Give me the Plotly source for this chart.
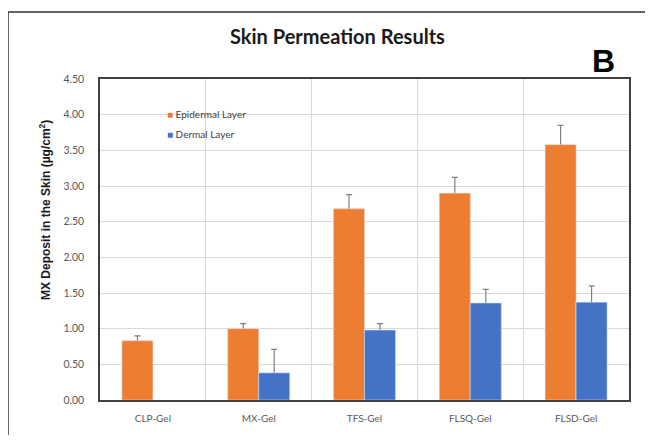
import plotly.graph_objects as go

categories = ["CLP-Gel", "MX-Gel", "TFS-Gel", "FLSQ-Gel", "FLSD-Gel"]
epidermal = [0.83, 1.00, 2.68, 2.90, 3.58]
epidermal_err = [0.07, 0.07, 0.20, 0.22, 0.27]
dermal = [None, 0.38, 0.98, 1.36, 1.37]
dermal_err = [None, 0.33, 0.09, 0.19, 0.23]
y_ticks = [0, 0.5, 1.0, 1.5, 2.0, 2.5, 3.0, 3.5, 4.0, 4.5]
series_names = ["Epidermal Layer", "Dermal Layer"]
series_colors = ["#ED7D31", "#4472C4"]

# page body adds an 8px offset; work in reference pixels and shift
OFF = 8
W, H = 653 - 2 * OFF, 443 - 2 * OFF
L, R, T, B = 100 - OFF, 629 - OFF, 79 - OFF, 400 - OFF

err_style = dict(type="data", symmetric=False, color="#7f7f7f", thickness=1.2, width=3)

fig = go.Figure()
for name, col, vals, errs, grp in [
    (series_names[0], series_colors[0], epidermal, epidermal_err, "epi"),
    (series_names[1], series_colors[1], dermal, dermal_err, "der"),
]:
    # bar with upward error bar (lower cap tucked inside the bar)
    fig.add_trace(go.Bar(
        x=categories, y=vals, name=name, marker_color=col, offsetgroup=grp,
        error_y=dict(array=errs, arrayminus=[0.04 if e else None for e in errs], **err_style),
    ))
    # same bar drawn again on top to hide the lower cap
    fig.add_trace(go.Bar(
        x=categories, y=vals, name=name, marker_color=col, offsetgroup=grp,
        showlegend=False, hoverinfo="skip",
    ))


def px_x(p):
    return (p - OFF - L) / (R - L)


def px_y(p):
    return (B - (p - OFF)) / (B - T)


annotations = [
    dict(text="<b>Skin Permeation Results</b>", x=px_x(337), y=px_y(36), xref="paper", yref="paper",
         showarrow=False, font=dict(family="Lato", size=20, color="#1a1a1a"),
         xanchor="center", yanchor="middle"),
    dict(text="<b>B</b>", x=px_x(603), y=px_y(61), xref="paper", yref="paper",
         showarrow=False, font=dict(family="Liberation Sans", size=32, color="black"),
         xanchor="center", yanchor="middle"),
    dict(text="<b>MX Deposit in the Skin (µg/cm<sup>2</sup>)</b>", x=px_x(45), y=px_y(210),
         xref="paper", yref="paper", showarrow=False, textangle=-90,
         font=dict(family="Liberation Sans", size=12, color="#1a1a1a"),
         xanchor="center", yanchor="middle"),
]
for i, (name, col) in enumerate(zip(series_names, series_colors)):
    annotations.append(dict(
        text=f"<span style='color:{col}'>■</span> {name}",
        x=px_x(165), y=px_y(114 + 20 * i), xref="paper", yref="paper", showarrow=False,
        font=dict(family="Lato", size=10, color="#404040"), xanchor="left", yanchor="middle"))

fig.update_layout(
    width=W, height=H,
    margin=dict(l=L, r=W - R, t=T, b=H - B, autoexpand=False),
    paper_bgcolor="white", plot_bgcolor="white",
    barmode="group", bargap=0.415, bargroupgap=0,
    showlegend=False,
    xaxis=dict(type="category", tickson="boundaries", showgrid=True, gridcolor="#d9d9d9",
               gridwidth=1, showline=True, linecolor="#404040", linewidth=1.5, mirror=True,
               ticks="", tickfont=dict(family="Lato", size=10, color="#595959"),
               ticklabelstandoff=8),
    yaxis=dict(range=[0, 4.5], tickvals=y_ticks, tickformat=".2f", showgrid=True,
               gridcolor="#d9d9d9", gridwidth=1, showline=True, linecolor="#404040",
               linewidth=1.5, mirror=True, ticks="", zeroline=False,
               tickfont=dict(family="Lato", size=10.5, color="#595959"),
               ticklabelstandoff=12),
    annotations=annotations,
    shapes=[dict(type="rect", xref="paper", yref="paper",
                 x0=px_x(8), x1=px_x(700), y0=px_y(480), y1=px_y(12),
                 line=dict(color="#333333", width=1.5), layer="below")],
)

fig.write_html("out.html")
